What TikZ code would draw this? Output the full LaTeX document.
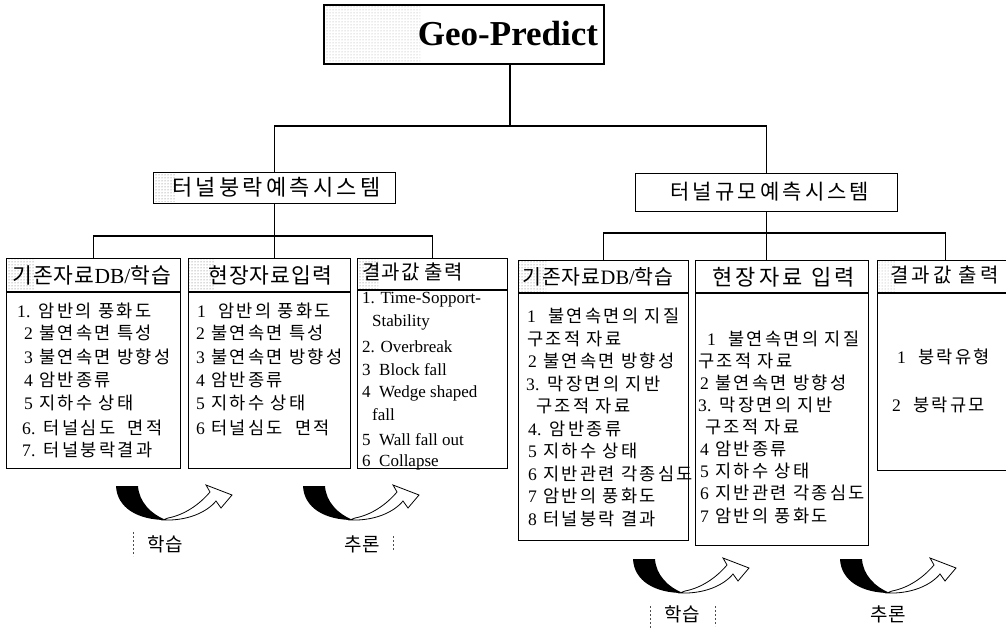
\documentclass[tikz,border=0pt]{standalone}
\usepackage{fontspec}
\setmainfont{Liberation Serif}
\newfontfamily\krA[LetterSpace=13]{Noto Sans CJK KR}
\newfontfamily\krH[LetterSpace=5]{Noto Sans CJK KR}
\newfontfamily\krT[LetterSpace=15]{Noto Sans CJK KR}
\usetikzlibrary{patterns}
\newcommand\nm[1]{{\rmfamily #1}}
\tikzset{
  box/.style={draw=black, line width=1.3pt, rectangle, inner sep=0pt, anchor=north west},
  conn/.style={draw=black, line width=1.3pt},
  sep/.style={draw=black, line width=1.1pt},
  stip/.style={pattern=dots, pattern color=black!60},
  item/.style={anchor=west, inner sep=0pt, font=\krA\fontsize{17.6}{17.6}\selectfont},
  eitem/.style={anchor=west, inner sep=0pt, font=\fontsize{17}{17}\selectfont},
  head/.style={anchor=west, inner sep=0pt, font=\krH\fontsize{21.5}{21.5}\selectfont},
  whead/.style={anchor=west, inner sep=0pt, font=\krT\fontsize{20}{20}\selectfont},
  title/.style={anchor=west, inner sep=0pt, font=\krT\fontsize{22}{22}\selectfont},
  lab/.style={inner sep=0pt, font=\krH\fontsize{19}{19}\selectfont},
  tick/.style={draw=black!70, line width=0.6pt, dash pattern=on 2pt off 2pt},
}
\begin{document}
\begin{tikzpicture}[x=1pt, y=-1pt]
\useasboundingbox (0,0) rectangle (1006,628);
\fill[white] (0,0) rectangle (1006,628);

% ---------- top box
\fill[pattern=dots, pattern color=black!35] (324,5) rectangle (420,62);
\node[box, line width=1.8pt, minimum width=280pt, minimum height=59pt] (geo) at (323,4) {};
\node[inner sep=0pt, font=\bfseries\fontsize{35}{35}\selectfont] (geot) at (508,34) {Geo-Predict};

% ---------- second level
\fill[stip] (154,173) rectangle (176,202);
\node[box, minimum width=242pt, minimum height=31pt] (A) at (153,172) {};
\node[title] (At) at (172,187.5) {터널붕락예측시스템};

\node[box, minimum width=262pt, minimum height=38pt] (B) at (635,173) {};
\node[title, font=\krT\fontsize{21}{21}\selectfont] (Bt) at (670,192) {터널규모예측시스템};

\coordinate (h1) at (510,126);
\draw[conn] (geo.south -| h1) -- (h1);
\draw[conn] (A.north) -- (A.north |- h1) -- (B.north |- h1) -- (B.north);

% ---------- left third level
\fill[stip] (7,259) rectangle (35,292);
\fill[stip] (189,259) rectangle (214,292);
\fill[stip] (358,259) rectangle (378,290);
\node[box, minimum width=174pt, minimum height=210pt] (L1) at (6,258) {};
\node[box, minimum width=162pt, minimum height=210pt] (L2) at (188,258) {};
\node[box, minimum width=150pt, minimum height=210pt] (L3) at (357,258) {};
\coordinate (h2) at (0,236);
\draw[conn] (A.south) -- (A.south |- L2.north);
\draw[conn] (L1.north) -- (L1.north |- h2) -- (L3.north |- h2) -- (L3.north);
\draw[sep] (L1.north west |- 0,292) -- (L1.north east |- 0,292);
\draw[sep] (L2.north west |- 0,292) -- (L2.north east |- 0,292);
\draw[sep] (L3.north west |- 0,290) -- (L3.north east |- 0,290);

\node[head] (L1h) at (12,275) {기존자료\nm{DB/}학습};
\node[head] (L2h) at (208,275) {현장자료입력};
\node[head, font=\krH\fontsize{20}{20}\selectfont] (L3h) at (362,272) {결과값 출력};

\node[item] (l1a) at (17,311) {\nm{1.} 암반의 풍화도};
\node[item] (l1b) at (24,333) {\nm{2} 불연속면 특성};
\node[item] (l1c) at (24,357) {\nm{3} 불연속면 방향성};
\node[item] (l1d) at (24,380) {\nm{4} 암반종류};
\node[item] (l1e) at (24,403) {\nm{5} 지하수 상태};
\node[item] (l1f) at (22,428) {\nm{6.} 터널심도 \ 면적};
\node[item] (l1g) at (22,450) {\nm{7.} 터널붕락결과};

\node[item] (l2a) at (197,311) {\nm{1} \ 암반의 풍화도};
\node[item] (l2b) at (196,333) {\nm{2} 불연속면 특성};
\node[item] (l2c) at (196,357) {\nm{3} 불연속면 방향성};
\node[item] (l2d) at (196,380) {\nm{4} 암반종류};
\node[item] (l2e) at (196,403) {\nm{5} 지하수 상태};
\node[item] (l2f) at (196,428) {\nm{6} 터널심도 \ 면적};

\node[eitem] (l3a) at (362,300) {1. Time-Sopport-};
\node[eitem] (l3b) at (372,322) {Stability};
\node[eitem] (l3c) at (362,347) {2. Overbreak};
\node[eitem] (l3d) at (362,370) {3 \ Block fall};
\node[eitem] (l3e) at (362,393) {4 \ Wedge shaped};
\node[eitem] (l3f) at (372,415) {fall};
\node[eitem] (l3g) at (362,440) {5 \ Wall fall out};
\node[eitem] (l3h) at (362,462) {6 \ Collapse};

% ---------- right third level
\fill[stip] (519,261) rectangle (546,292);
\fill[pattern=dots, pattern color=black!35] (878,261) rectangle (895,292);
\node[box, minimum width=170pt, minimum height=280pt] (R1) at (518,260) {};
\node[box, minimum width=173pt, minimum height=285pt] (R2) at (695,260) {};
\node[box, minimum width=135pt, minimum height=210pt] (R3) at (877,260) {};
\coordinate (h3) at (0,233);
\draw[conn] (B.south) -- (B.south |- R2.north);
\draw[conn] (R1.north) -- (R1.north |- h3) -- (R3.north |- h3) -- (R3.north);
\draw[sep] (R1.north west |- 0,293) -- (R1.north east |- 0,293);
\draw[sep] (R2.north west |- 0,293) -- (R2.north east |- 0,293);
\draw[sep] (R3.north west |- 0,293) -- (R3.north east |- 0,293);

\node[head, font=\krH\fontsize{20.5}{20.5}\selectfont] (R1h) at (522,277) {기존자료\nm{DB/}학습};
\node[whead, font=\krT\fontsize{22}{22}\selectfont] (R2h) at (712,277) {현장자료 입력};
\node[whead] (R3h) at (890,275) {결과값 출력};

\node[item] (r1a) at (527,316) {\nm{1} \ 불연속면의 지질};
\node[item] (r1b) at (527,339) {구조적 자료};
\node[item] (r1c) at (528,361) {\nm{2} 불연속면 방향성};
\node[item] (r1d) at (526,384) {\nm{3.} 막장면의 지반};
\node[item] (r1e) at (536,406) {구조적 자료};
\node[item] (r1f) at (528,429) {\nm{4.} 암반종류};
\node[item] (r1g) at (528,451) {\nm{5} 지하수 상태};
\node[item] (r1h) at (528,474) {\nm{6} 지반관련 각종심도};
\node[item] (r1i) at (528,496) {\nm{7} 암반의 풍화도};
\node[item] (r1j) at (528,519) {\nm{8} 터널붕락 결과};

\node[item] (r2a) at (707,339) {\nm{1} \ 불연속면의 지질};
\node[item] (r2b) at (698,361) {구조적 자료};
\node[item] (r2c) at (700,383) {\nm{2} 불연속면 방향성};
\node[item] (r2d) at (698,405) {\nm{3.} 막장면의 지반};
\node[item] (r2e) at (705,427) {구조적 자료};
\node[item] (r2f) at (700,449) {\nm{4} 암반종류};
\node[item] (r2g) at (700,471) {\nm{5} 지하수 상태};
\node[item] (r2h) at (700,493) {\nm{6} 지반관련 각종심도};
\node[item] (r2i) at (700,516) {\nm{7} 암반의 풍화도};

\node[item] (r3a) at (897,357) {\nm{1} \ 붕락유형};
\node[item] (r3b) at (892,405) {\nm{2} \ 붕락규모};

% ---------- cycle arrows
\foreach \dx/\dy in {0/0, 187/0, 517/73, 724/73}{
  \begin{scope}[shift={(\dx,\dy)}]
    \fill[black] (116,486) .. controls (117,508) and (138,520) .. (166,520)
       .. controls (151,514) and (139,502) .. (138,486) -- cycle;
    \draw[black, line width=0.8pt, fill=white, line join=miter]
      (163,520) .. controls (188,521) and (207,512) .. (216,501)
      -- (221,508) -- (232,495) -- (206,485) -- (210,492)
      .. controls (199,505) and (184,515) .. (168,518) -- cycle;
  \end{scope}
}
\node[lab] (lab1) at (165,544) {학습};
\node[lab] (lab2) at (362,544) {추론};
\node[lab] (lab3) at (682,614) {학습};
\node[lab] (lab4) at (888,614) {추론};
\draw[tick] (133,532) -- (133,556);
\draw[tick] (393,536) -- (393,550);
\draw[tick] (650,606) -- (650,628);
\draw[tick] (715,606) -- (715,626);
\end{tikzpicture}
\end{document}
